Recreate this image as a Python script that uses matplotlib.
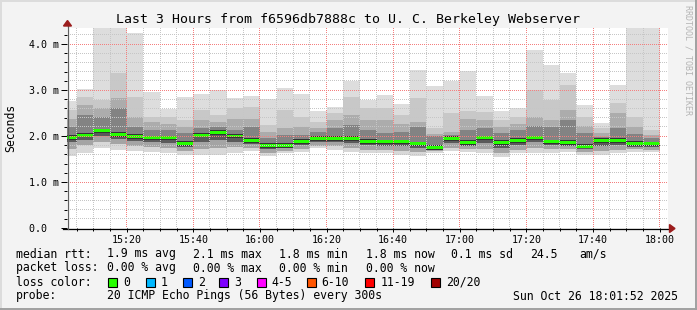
import matplotlib
matplotlib.use('Agg')
import matplotlib.pyplot as plt
from matplotlib.patches import Rectangle, Polygon
from matplotlib.lines import Line2D
import numpy as np

# bar start times in minutes after 15:00 (5 minute steps, last bar ends at 18:00)
bar_start = list(range(0, 180, 5))

# smoke band edges per 5-min step (ms)
rtt_max = [2.76, 3.02, 4.40, 4.40, 4.23, 2.96, 2.58, 2.84, 2.91, 3.00, 2.82, 2.87,
           2.81, 3.04, 2.91, 2.55, 2.62, 3.20, 2.78, 2.89, 2.70, 3.44, 3.09, 3.20,
           3.41, 2.86, 2.55, 2.60, 3.88, 3.54, 3.38, 2.67, 2.28, 3.11, 4.40, 4.40]
rtt_hi3 = [2.56, 2.84, 2.78, 3.38, 2.84, 2.42, 2.42, 2.35, 2.57, 2.46, 2.60, 2.62,
           2.24, 2.57, 2.42, 2.31, 2.49, 2.84, 2.60, 2.60, 2.46, 2.82, 2.17, 2.49,
           2.55, 2.53, 2.35, 2.42, 2.99, 2.78, 3.11, 2.42, 2.17, 2.71, 2.42, 2.13]
rtt_hi2 = [2.38, 2.67, 2.60, 2.82, 2.42, 2.31, 2.27, 2.20, 2.35, 2.31, 2.38, 2.38,
           2.09, 2.17, 2.20, 2.17, 2.35, 2.46, 2.35, 2.35, 2.27, 2.31, 2.05, 2.09,
           2.38, 2.35, 2.20, 2.27, 2.42, 2.35, 2.57, 2.22, 2.06, 2.49, 2.20, 2.02]
rtt_hi1 = [2.20, 2.46, 2.42, 2.60, 2.20, 2.13, 2.12, 2.06, 2.17, 2.20, 2.13, 2.20,
           1.96, 2.02, 2.02, 2.08, 2.17, 2.24, 2.13, 2.07, 2.09, 2.20, 1.99, 2.02,
           2.13, 2.17, 2.06, 2.13, 2.22, 2.20, 2.35, 2.06, 1.98, 2.17, 2.05, 1.96]
rtt_med = [1.97, 2.02, 2.11, 2.03, 1.99, 1.96, 1.96, 1.84, 2.02, 2.07, 2.00, 1.90,
           1.80, 1.80, 1.88, 1.95, 1.94, 1.94, 1.88, 1.87, 1.87, 1.83, 1.75, 1.94,
           1.86, 1.96, 1.86, 1.90, 1.96, 1.87, 1.86, 1.78, 1.90, 1.90, 1.84, 1.83]
rtt_lo1 = [1.86, 1.92, 2.00, 1.93, 1.90, 1.86, 1.85, 1.76, 1.86, 1.92, 1.88, 1.82,
           1.72, 1.74, 1.80, 1.86, 1.86, 1.84, 1.80, 1.78, 1.78, 1.74, 1.71, 1.84,
           1.79, 1.84, 1.75, 1.80, 1.86, 1.80, 1.79, 1.71, 1.78, 1.80, 1.77, 1.76]
rtt_lo2 = [1.72, 1.80, 1.86, 1.82, 1.78, 1.76, 1.74, 1.68, 1.72, 1.75, 1.76, 1.74,
           1.64, 1.68, 1.72, 1.79, 1.78, 1.74, 1.70, 1.70, 1.68, 1.65, 1.67, 1.75,
           1.72, 1.72, 1.64, 1.70, 1.74, 1.71, 1.72, 1.65, 1.68, 1.70, 1.71, 1.70]
rtt_min = [1.56, 1.64, 1.73, 1.70, 1.68, 1.66, 1.64, 1.59, 1.59, 1.59, 1.64, 1.67,
           1.57, 1.62, 1.66, 1.73, 1.70, 1.66, 1.62, 1.62, 1.59, 1.57, 1.64, 1.68,
           1.66, 1.62, 1.55, 1.62, 1.64, 1.64, 1.66, 1.59, 1.59, 1.62, 1.66, 1.66]

x_ticks = [20, 40, 60, 80, 100, 120, 140, 160, 180]
x_labels = ['15:20', '15:40', '16:00', '16:20', '16:40', '17:00', '17:20', '17:40', '18:00']
y_ticks = [0, 1, 2, 3, 4]
y_labels = ['0.0  ', '1.0 m', '2.0 m', '3.0 m', '4.0 m']
x_minor = list(range(5, 185, 5))
y_minor = [k / 5 for k in range(1, 22)]

loss_names = ['0', '1', '2', '3', '4-5', '6-10', '11-19', '20/20']
loss_cols = ['#26ff00', '#00b8ff', '#0059ff', '#7e00ff', '#ff00ff', '#ff5500', '#ff0000', '#a10000']

W, H = 697, 310
mono = 'DejaVu Sans Mono'
plt.rcParams['font.family'] = mono

fig = plt.figure(figsize=(W / 100, H / 100), dpi=100)
fig.patch.set_facecolor('#f3f3f3')

def fx(px):
    return px / W

def fy(py):
    return 1 - py / H

# plot area on whole pixels
L, R, T, B = 67, 668, 28, 228
ax = fig.add_axes([fx(L), fy(B), fx(R) - fx(L), fy(T) - fy(B)])
ax.set_facecolor('white')
ax.set_xlim(2.08, 182.5)
ax.set_ylim(0, 4.348)

# smoke bands, outermost light, darker towards the median
bands = [
    (rtt_min, rtt_lo2, '#d8d8d8'),
    (rtt_lo2, rtt_lo1, '#a4a4a4'),
    (rtt_lo1, rtt_med, '#5a5a5a'),
    (rtt_med, rtt_hi1, '#838383'),
    (rtt_hi1, rtt_hi2, '#acacac'),
    (rtt_hi2, rtt_hi3, '#c8c8c8'),
    (rtt_hi3, rtt_max, '#dddddd'),
]
for lo, hi, c in bands:
    lo = np.array(lo)
    hi = np.array(hi)
    ax.bar(bar_start, hi - lo, bottom=lo, width=5, align='edge', color=c, linewidth=0, zorder=2)

med = np.array(rtt_med)
# dark core around the median
ax.bar(bar_start, 0.10, bottom=med - 0.05, width=5, align='edge', color='#333333', linewidth=0, zorder=3)
# median rtt, coloured by loss (all 0 here)
ax.bar(bar_start, 0.065, bottom=med - 0.0325, width=5, align='edge', color=loss_cols[0], linewidth=0, zorder=4)

for s in ax.spines.values():
    s.set_visible(False)

ax.set_xticks(x_ticks, x_labels)
ax.set_xticks(x_minor, minor=True)
ax.set_yticks(y_ticks, y_labels)
ax.set_yticks(y_minor, minor=True)
ax.tick_params(axis='both', which='major', labelsize=7.2, length=3, width=0.72, color='#000000', pad=2)
ax.tick_params(axis='both', which='minor', length=2, width=0.72, color='#000000')
ax.tick_params(axis='y', which='major', length=4, pad=2)

# dotted rrdtool grid on top of the smoke, one pixel on / one off
grid = np.zeros((H, W, 4))
gray = (0.78, 0.78, 0.78, 1.0)
red = (0.96, 0.5, 0.5, 1.0)
xs_disp = ax.transData.transform([(t, 0) for t in x_minor])[:, 0]
ys_disp = ax.transData.transform([(0, v) for v in y_minor])[:, 1]
for t, xd in zip(x_minor, xs_disp):
    col = int(np.floor(xd))
    if L <= col < R:
        grid[T:B:2, col] = red if t % 20 == 0 else gray
for v, yd in zip(y_minor, ys_disp):
    row = int(np.floor(H - yd))
    if T <= row < B:
        grid[row, L + 1:R:2] = red if round(v, 1) % 1 == 0 else gray
fig.figimage(grid, xo=0, yo=0, origin='upper', zorder=1)

# axis lines with arrows
fig.add_artist(Line2D([fx(63), fx(670)], [fy(228.5), fy(228.5)], color='black', lw=0.9, zorder=2))
fig.add_artist(Line2D([fx(67.5), fx(67.5)], [fy(228.5), fy(25)], color='#606060', lw=0.9, zorder=2))
fig.add_artist(Polygon([[fx(67.5), fy(20.5)], [fx(63.5), fy(26)], [fx(71.5), fy(26)]],
                       closed=True, color='#9b1c1c', transform=fig.transFigure, zorder=2))
fig.add_artist(Polygon([[fx(675), fy(228.5)], [fx(669.5), fy(224.5)], [fx(669.5), fy(232.5)]],
                       closed=True, color='#9b1c1c', transform=fig.transFigure, zorder=2))

fig.text(0.5, fy(19), 'Last 3 Hours from f6596db7888c to U. C. Berkeley Webserver',
         ha='center', va='center', fontsize=9.5)
fig.text(fx(11), fy(128), 'Seconds', rotation=90, ha='center', va='center', fontsize=8.3)
fig.text(fx(688), fy(60), 'RRDTOOL / TOBI OETIKER', rotation=270, ha='center', va='center',
         fontsize=6, color='#b4b4b4')

# legend rows
fs = 8.3
rows = [
    (254, [(16, 'median rtt:'), (107, '1.9 ms avg'), (193, '2.1 ms max'), (279, '1.8 ms min'),
           (365.5, '1.8 ms now'), (451, '0.1 ms sd'), (530.5, '24.5'), (579, 'am/s')]),
    (268, [(16, 'packet loss:'), (107, '0.00 % avg'), (193, '0.00 % max'), (279, '0.00 % min'),
           (365.5, '0.00 % now')]),
    (282, [(16, 'loss color:')]),
    (296, [(16, 'probe:'), (107, '20 ICMP Echo Pings (56 Bytes) every 300s'),
           (513, 'Sun Oct 26 18:01:52 2025')]),
]
for y, items in rows:
    for x, s in items:
        fig.text(fx(x), fy(y), s, ha='left', va='center', fontsize=fs)

box_x = [108, 145.7, 182.7, 219, 256.7, 306.7, 365.3, 430.7]
for bx, name, c in zip(box_x, loss_names, loss_cols):
    fig.add_artist(Rectangle((fx(bx), fy(286.7)), 9 / W, 9 / H, facecolor=c, edgecolor='black',
                             lw=0.8, transform=fig.transFigure))
    fig.text(fx(bx + 15), fy(282), name, ha='left', va='center', fontsize=fs)

# 3d-ish frame
fig.add_artist(Line2D([0, 1], [fy(0.7), fy(0.7)], color='#dcdcdc', lw=1.4))
fig.add_artist(Line2D([fx(0.7), fx(0.7)], [0, 1], color='#dcdcdc', lw=1.4))
fig.add_artist(Line2D([0, 1], [fy(309), fy(309)], color='#a0a0a0', lw=1.4))
fig.add_artist(Line2D([fx(696), fx(696)], [0, 1], color='#a0a0a0', lw=1.4))

fig.savefig('out.png', dpi=100, facecolor=fig.get_facecolor())
